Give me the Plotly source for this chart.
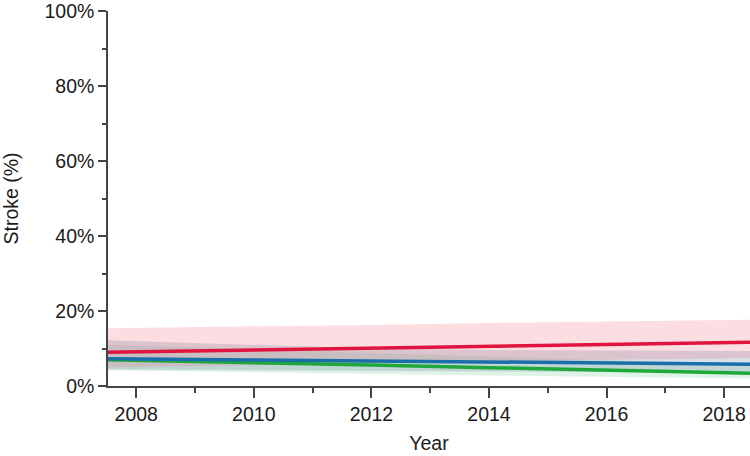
import plotly.graph_objects as go

years = [2007.5, 2010, 2012, 2014, 2016, 2018.5]

red_mean = [9.0, 9.6, 10.1, 10.6, 11.1, 11.7]
red_upper = [15.4, 15.8, 16.3, 16.8, 17.2, 17.7]
red_lower = [5.0, 5.5, 6.0, 6.5, 7.0, 7.4]

blue_mean = [7.3, 7.0, 6.7, 6.4, 6.1, 5.8]
blue_upper = [12.2, 11.0, 10.0, 9.6, 9.4, 9.3]
blue_lower = [4.4, 4.2, 4.0, 3.8, 3.6, 3.5]

green_mean = [7.0, 6.3, 5.6, 4.9, 4.2, 3.4]
green_upper = [11.0, 9.8, 8.8, 7.8, 6.9, 6.0]
green_lower = [4.2, 3.8, 3.3, 2.8, 2.4, 2.0]

series = [
    ("Green", green_mean, green_lower, green_upper, "#1fa83a", "rgba(70,190,110,0.18)"),
    ("Blue", blue_mean, blue_lower, blue_upper, "#1a6eaa", "rgba(110,140,170,0.28)"),
    ("Red", red_mean, red_lower, red_upper, "#e0143f", "rgba(240,100,125,0.22)"),
]

fig = go.Figure()
for name, m, lo, up, lc, fc in series:
    fig.add_trace(go.Scatter(x=years, y=up, mode="lines", line=dict(width=0),
                             showlegend=False, hoverinfo="skip"))
    fig.add_trace(go.Scatter(x=years, y=lo, mode="lines", line=dict(width=0),
                             fill="tonexty", fillcolor=fc, showlegend=False, hoverinfo="skip"))
for name, m, lo, up, lc, fc in series:
    fig.add_trace(go.Scatter(x=years, y=m, mode="lines", name=name,
                             line=dict(color=lc, width=3.5), showlegend=False))

axis_font = dict(family="Liberation Sans, Arial, sans-serif", size=19.5, color="#1a1a1a")
fig.update_layout(
    width=750, height=456,
    margin=dict(l=108, r=0, t=7, b=70),
    paper_bgcolor="white", plot_bgcolor="white",
    font=axis_font,
    showlegend=False,
    xaxis=dict(
        range=[2007.52, 2018.44], tickmode="linear", tick0=2008, dtick=2,
        showgrid=False, zeroline=False, showline=True, linecolor="#444", linewidth=1.5,
        ticks="outside", ticklen=10, tickwidth=1.5, tickcolor="#444",
        minor=dict(dtick=1, tick0=2007, ticks="outside", ticklen=5, tickwidth=1.5, tickcolor="#444"),
        title=dict(text="Year", standoff=12, font=axis_font),
        tickfont=axis_font, ticklabeloverflow="allow",
    ),
    yaxis=dict(
        range=[0, 100], tickmode="linear", tick0=0, dtick=20,
        ticksuffix="%",
        showgrid=False, zeroline=False, showline=True, linecolor="#444", linewidth=1.5,
        ticks="outside", ticklen=8, tickwidth=1.5, tickcolor="#444",
        minor=dict(dtick=10, ticks="outside", ticklen=4, tickwidth=1.5, tickcolor="#444"),
        title=dict(text="Stroke (%)", standoff=22, font=axis_font),
        tickfont=axis_font, ticklabeloverflow="allow",
    ),
)

fig.write_html("out.html")
